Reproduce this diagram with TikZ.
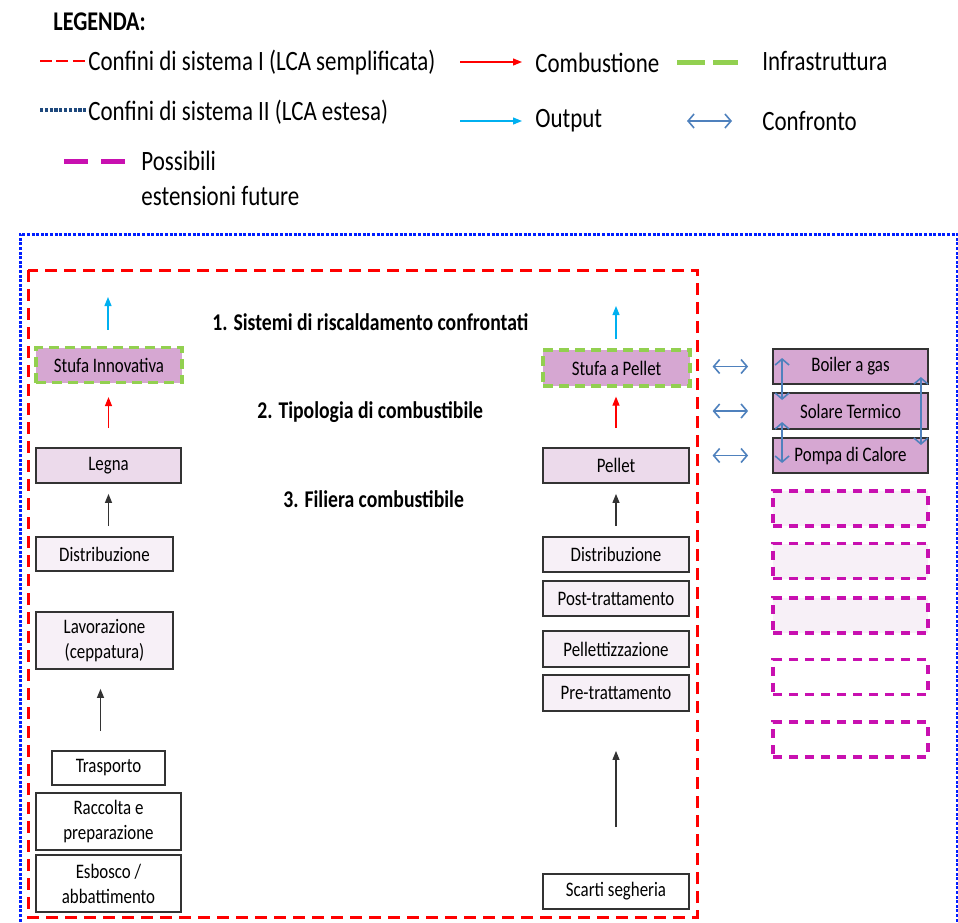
\documentclass[tikz,border=0pt]{standalone}
\usepackage{fontspec}
\setmainfont[FakeStretch=0.82]{Carlito}
\usepackage{tikz}
\usetikzlibrary{arrows.meta}

\definecolor{stufaviola}{RGB}{214,167,210}
\definecolor{fuelviola}{RGB}{236,218,235}
\definecolor{filieraviola}{RGB}{247,240,247}
\definecolor{infraverde}{RGB}{146,208,80}
\definecolor{futuromag}{RGB}{200,16,176}
\definecolor{outciano}{RGB}{0,176,240}
\definecolor{confrblu}{RGB}{79,129,189}
\definecolor{lcablu}{RGB}{0,30,255}
\definecolor{legblu}{RGB}{31,73,125}

\tikzset{
  box/.style={draw=black!80, line width=0.9pt, inner sep=1pt, align=center,
    font=\fontsize{10.3}{12.5}\selectfont},
  stufabox/.style={box, fill=stufaviola, draw=infraverde, line width=1.6pt,
    dash pattern=on 5pt off 3pt, minimum height=17.5pt},
  altbox/.style={box, fill=stufaviola, minimum width=77.5pt, minimum height=17.5pt},
  futbox/.style={draw=futuromag, line width=1.6pt, dash pattern=on 4.5pt off 3.5pt,
    minimum width=77.5pt, minimum height=17.5pt, inner sep=0pt},
  legtext/.style={anchor=west, inner sep=0pt, align=left,
    font=\fontsize{14}{17.5}\selectfont},
  head/.style={anchor=west, inner sep=0pt, font=\fontsize{12}{14}\selectfont\bfseries},
  comb/.style={red, line width=0.6pt, -{Triangle[length=4.5pt,width=3.5pt]}},
  outp/.style={outciano, line width=0.6pt, -{Triangle[length=4.5pt,width=3.5pt]}},
  flusso/.style={black!80, line width=0.6pt, -{Triangle[length=4.5pt,width=3.5pt]}},
  confr/.style={confrblu, line width=0.8pt,
    {Straight Barb[length=3pt,width=7pt]}-{Straight Barb[length=3pt,width=7pt]}}
}

\begin{document}
\begin{tikzpicture}[x=0.5pt, y=-0.5pt]

  \useasboundingbox (0,0) rectangle (958,922);

  % legenda
  \draw (53,22) node[head, name=legenda, font=\fontsize{13.5}{15}\selectfont\bfseries] {LEGENDA:};

  \draw (88,63) node[legtext, name=lgI] {Confini di sistema I (LCA semplificata)};
  \draw (88,112) node[legtext, name=lgII] {Confini di sistema II (LCA estesa)};
  \draw (141,178) node[legtext, name=lgfut] {Possibili\\estensioni future};
  \draw (535,63) node[legtext, name=lgcomb] {Combustione};
  \draw (535,121) node[legtext, name=lgout] {Output};
  \draw (762,61) node[legtext, name=lginfra] {Infrastruttura};
  \draw (762,121) node[legtext, name=lgconfr] {Confronto};

  \coordinate (lgIa) at (40,61);
  \coordinate (lgIIa) at (40,110);
  \coordinate (lgfuta) at (64,161);
  \coordinate (lgfutb) at (127,161);
  \coordinate (lgcomba) at (460,62);
  \coordinate (lgcombb) at (522,62);
  \coordinate (lgouta) at (460,121);
  \coordinate (lgoutb) at (522,121);
  \coordinate (lginfraa) at (677,62);
  \coordinate (lginfrab) at (738,62);
  \coordinate (lgconfra) at (687,121);
  \coordinate (lgconfrb) at (732,121);

  \draw [red, line width=1.4pt, dash pattern=on 6pt off 2.2pt] (lgIa) -- (lgI.west |- lgIa);
  \draw [legblu, line width=1.6pt, dash pattern=on 1.6pt off 0.8pt] (lgIIa) -- (lgII.west |- lgIIa);
  \draw [futuromag, line width=2.5pt, dash pattern=on 12pt off 6.5pt] (lgfuta) -- (lgfutb);
  \draw [comb] (lgcomba) -- (lgcombb);
  \draw [outp] (lgouta) -- (lgoutb);
  \draw [infraverde, line width=2.5pt, dash pattern=on 14pt off 4pt] (lginfraa) -- (lginfrab);
  \draw [confr] (lgconfra) -- (lgconfrb);

  % confini di sistema
  \draw [lcablu, line width=1.5pt, dash pattern=on 1.5pt off 0.8pt]
    (20,940) -- (20,234) -- (957,234) -- (957,940);
  \draw [red, line width=1.5pt, dash pattern=on 6pt off 3.5pt] (28,270) rectangle (697,917);

  \draw (212,322) node[head, name=livello1] {1. Sistemi di riscaldamento confrontati};
  \draw (257,412) node[head, name=livello2] {2. Tipologia di combustibile};
  \draw (283,499) node[head, name=livello3] {3. Filiera combustibile};

  % filiera legna
  \draw (109,365) node[stufabox, minimum width=73pt, name=stufaI] {Stufa Innovativa};
  \draw (108.5,465.5) node[box, fill=fuelviola, minimum width=72.5pt, minimum height=17.5pt, name=legna] {Legna};
  \draw (104.5,554) node[box, fill=filieraviola, minimum width=68.5pt, minimum height=17pt, name=distrL] {Distribuzione};
  \draw (104.5,640.5) node[box, fill=filieraviola, minimum width=68.5pt, minimum height=28.5pt, name=lavor] {Lavorazione\\(ceppatura)};
  \draw (108.5,768) node[box, minimum width=56.5pt, minimum height=17pt, name=trasp] {Trasporto};
  \draw (108.5,821.5) node[box, minimum width=72.5pt, minimum height=28.5pt, name=raccolta] {Raccolta e\\preparazione};
  \draw (108.5,883.5) node[box, minimum width=72.5pt, minimum height=28.5pt, name=esbosco] {Esbosco /\\abbattimento};

  \coordinate (outL) at (108,297);
  \draw [outp, shorten <=8pt] (stufaI.north -| outL) -- (outL);
  \draw [comb, shorten <=9.5pt, shorten >=6.5pt] (legna.north) -- (legna.north |- stufaI.south);
  \draw [flusso, shorten <=5pt, shorten >=5pt] (legna.south |- distrL.north) -- (legna.south);
  \draw [flusso, shorten <=9.5pt, shorten >=9.5pt] ([xshift=-2pt]lavor.south |- trasp.north) -- ([xshift=-2pt]lavor.south);

  % filiera pellet
  \draw (616.5,368) node[stufabox, minimum width=73.5pt, minimum height=18pt, name=stufaP] {Stufa a Pellet};
  \draw (616,465.5) node[box, fill=fuelviola, minimum width=73pt, minimum height=17.5pt, name=pellet] {Pellet};
  \draw (616,554.5) node[box, fill=filieraviola, minimum width=73pt, minimum height=17.5pt, name=distrR] {Distribuzione};
  \draw (616,598.5) node[box, fill=filieraviola, minimum width=73pt, minimum height=17.5pt, name=post] {Post-trattamento};
  \draw (616,649) node[box, fill=filieraviola, minimum width=73pt, minimum height=18pt, name=pellettizz] {Pellettizzazione};
  \draw (616,693) node[box, fill=filieraviola, minimum width=73pt, minimum height=18pt, name=pre] {Pre-trattamento};
  \draw (616,891.5) node[box, minimum width=73pt, minimum height=17.5pt, name=scarti] {Scarti segheria};

  \coordinate (outR) at (616,306);
  \draw [outp, shorten <=4.5pt] (stufaP.north -| outR) -- (outR);
  \draw [comb, shorten <=9.5pt, shorten >=4.5pt] (pellet.north) -- (pellet.north |- stufaP.south);
  \draw [flusso, shorten <=5pt, shorten >=5pt] (distrR.north) -- (pellet.south);
  \draw [flusso, shorten <=23pt, shorten >=19.5pt] (scarti.north) -- (pre.south);

  % sistemi alternativi
  \draw (850.5,366.5) node[altbox, name=boiler] {Boiler a gas};
  \draw (850.5,411) node[altbox, minimum height=18pt, name=solare] {Solare Termico};
  \draw (850.5,455.5) node[altbox, name=pompa] {Pompa di Calore};

  \draw [confr, shorten <=10.5pt, shorten >=12pt] (stufaP.east |- boiler.west) -- (boiler.west);
  \draw [confr, shorten <=10.5pt, shorten >=12pt] (stufaP.east |- solare.west) -- (solare.west);
  \draw [confr, shorten <=10.5pt, shorten >=12pt] (stufaP.east |- pompa.west) -- (pompa.west);

  \draw [confr] ([xshift=5pt, yshift=4.25pt]boiler.west) -- ([xshift=5pt, yshift=5.5pt]solare.west);
  \draw [confr] ([xshift=5pt, yshift=-5.5pt]solare.west) -- ([xshift=5pt, yshift=-3.75pt]pompa.west);
  \draw [confr] ([xshift=-4pt, yshift=-5.25pt]boiler.east) -- ([xshift=-4pt, yshift=5.25pt]pompa.east);

  \draw (850.5,508.5) node[futbox, fill=filieraviola, name=fut1] {};
  \draw (850.5,561) node[futbox, fill=filieraviola, name=fut2] {};
  \draw (850.5,615.5) node[futbox, fill=filieraviola, name=fut3] {};
  \draw (850.5,677) node[futbox, name=fut4] {};
  \draw (850.5,739.5) node[futbox, name=fut5] {};

\end{tikzpicture}
\end{document}
